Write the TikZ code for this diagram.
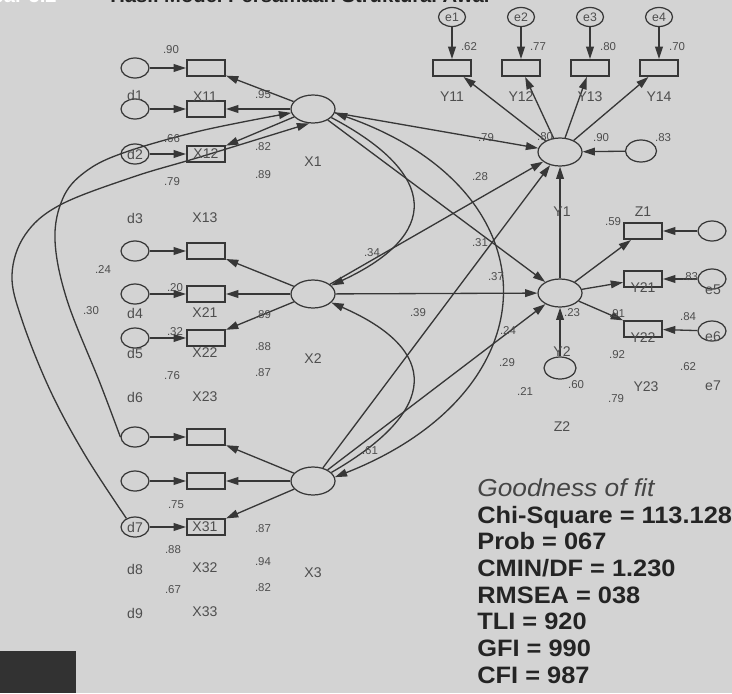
\documentclass[tikz,border=0pt]{standalone}
\usepackage{fontspec}
\setmainfont{Liberation Sans}
\usetikzlibrary{shapes.geometric, arrows.meta, positioning}
\definecolor{bgc}{RGB}{211,211,211}
\definecolor{linec}{RGB}{55,55,55}
\definecolor{txtc}{RGB}{78,78,78}
\definecolor{fitc}{RGB}{36,36,36}
\definecolor{darkc}{RGB}{50,50,50}

\begin{document}
\begin{tikzpicture}[x=0.02cm, y=-0.02cm,
    lat/.style={ellipse, draw=linec, line width=0.7pt, minimum width=0.88cm, minimum height=0.56cm, inner sep=0pt},
    err/.style={ellipse, draw=linec, line width=0.7pt, minimum width=0.56cm, minimum height=0.4cm, inner sep=0pt, text=txtc, font=\fontsize{7}{8}\selectfont},
    ind/.style={rectangle, draw=linec, line width=1.1pt, minimum width=0.76cm, minimum height=0.32cm, inner sep=0pt},
    reg/.style={draw=linec, line width=0.75pt, -{Triangle[length=7pt,width=4.4pt]}},
    bicov/.style={draw=linec, line width=0.75pt, {Triangle[length=7pt,width=4.4pt]}-{Triangle[length=7pt,width=4.4pt]}},
    num/.style={text=txtc, font=\fontsize{6.5}{7}\selectfont, inner sep=0pt},
    nm/.style={text=txtc, font=\fontsize{8}{9}\selectfont, inner sep=0pt},
    fitline/.style={text=fitc, font=\fontsize{13.5}{14}\selectfont\bfseries, anchor=base west, inner sep=0pt}]

    \useasboundingbox (0,0) rectangle (732,693);
    \fill[bgc] (0,0) rectangle (732,693);
    \fill[darkc] (0,651) rectangle (76,693);

    % title, cut by the top edge
    \node[anchor=base east, inner sep=0pt, text=white, font=\fontsize{11.5}{12}\selectfont\bfseries] (fignum) at (57,3) {Gambar 5.2};
    \node[anchor=base west, inner sep=0pt, text=fitc, font=\fontsize{11.5}{12}\selectfont\bfseries] (title) at (110,3) {Hasil Model Persamaan Struktural Awal};

    % exogenous indicators
    \foreach \r/\y in {11/68,12/109,13/154,21/251,22/294,23/338,31/437,32/481,33/527} {
        \node[err] (d\r) at (135,\y) {};
        \node[ind] (x\r) at (206,\y) {};
        \draw[reg] (d\r) -- (x\r);
    }

    \node[lat] (X1) at (313,109) {};
    \node[lat] (X2) at (313,294) {};
    \node[lat] (X3) at (313,481) {};
    \node[lat] (Y1) at (560,152) {};
    \node[lat] (Y2) at (560,293) {};

    \foreach \k in {1,2,3} {
        \foreach \j in {1,2,3} {\draw[reg] (X\k) -- (x\k\j);}
        \draw[reg] (X\k) -- (Y1);
        \draw[reg] (X\k) -- (Y2);
    }

    % Y1 block
    \foreach \j/\x in {1/452,2/521,3/590,4/659} {
        \node[err, minimum width=0.54cm, minimum height=0.38cm] (e\j) at (\x,17) {e\j};
        \node[ind] (y1\j) at (\x,68) {};
        \draw[reg] (e\j) -- (y1\j);
        \draw[reg] (Y1) -- (y1\j);
    }
    \node[err, minimum width=0.62cm, minimum height=0.44cm] (u1) at (641,151) {};
    \draw[reg] (u1) -- (Y1);
    \draw[reg] (Y2) -- (Y1);

    % Y2 block
    \node[ind] (z1) at (643,231) {};
    \node[ind] (y21) at (643,279) {};
    \node[ind] (y22) at (643,329) {};
    \node[err] (v1) at (712,231) {};
    \node[err] (v2) at (712,279) {};
    \node[err] (v3) at (712,331) {};
    \draw[reg] (Y2) -- (z1);
    \draw[reg] (Y2) -- (y21);
    \draw[reg] (Y2) -- (y22);
    \draw[reg] (v1) -- (z1);
    \draw[reg] (v2) -- (y21);
    \draw[reg] (v3) -- (y22);
    \node[err, minimum width=0.64cm, minimum height=0.44cm] (u2) at (560,368) {};
    \draw[reg] (u2) -- (Y2);

    % curved paths
    \draw[reg] (X1.-25) .. controls (440,175) and (440,235) .. (X2.25);
    \draw[reg] (X3.25) .. controls (440,410) and (440,350) .. (X2.-25);
    \draw[bicov] (X1.-10) .. controls (556,190) and (556,390) .. (X3.10);
    \draw[reg] plot[smooth, tension=0.6] coordinates {(d31.west) (100,383) (67,300) (55,240) (63,198) (85,172) (123,153) (200,131) (X1.190)};
    \draw[reg] plot[smooth, tension=0.6] coordinates {(d33.135) (85,455) (50,390) (22,320) (12,275) (25,235) (60,205) (133,177) (200,157) (X1.255)};

    % estimates
    \foreach \t/\x/\y [count=\i] in {.62/469/47, .77/538/47, .80/608/47, .70/677/47,
        .79/486/138, .80/545/137, .90/601/138, .83/663/138, .28/480/177,
        .90/171/50, .95/263/95, .66/172/139, .82/263/147, .79/172/182, .89/263/175,
        .24/103/270, .30/91/311, .20/175/288, .89/263/315, .32/175/332, .88/263/347, .76/172/376, .87/263/373,
        .34/372/253, .61/370/451,
        .75/176/505, .87/263/529, .88/173/550, .94/263/562, .67/173/590, .82/263/588,
        .59/613/222, .83/690/277, .91/617/314, .84/688/317, .23/572/313, .39/418/313, .37/496/277,
        .31/480/243, .24/508/331, .29/507/363, .92/617/355, .60/576/385, .62/688/367, .21/525/392, .79/616/399}
        \node[num] (est\i) at (\x,\y) {\t};

    % variable names
    \foreach \t/\x/\y [count=\i] in {Y11/452/97, Y12/521/97, Y13/590/97, Y14/659/97,
        d1/135/95, X11/205/97, d2/135/154, X12/206/154, X1/313/162, d3/135/218, X13/205/218,
        d4/135/313, X21/205/313, d5/135/353, X22/205/353, X2/313/359, d6/135/397, X23/205/397,
        d7/135/527, X31/205/527, d8/135/569, X32/205/568, X3/313/573, d9/135/613, X33/205/612,
        Y1/562/212, Z1/643/212, Y21/643/288, e5/713/290, Y22/643/338, e6/713/337,
        Y2/562/352, Y23/646/387, e7/713/386, Z2/562/427}
        \node[nm] (var\i) at (\x,\y) {\t};

    % fit indices
    \node[fitline, font=\fontsize{14}{15}\selectfont\itshape, text=fitc!85] (gof) at (477,496) {\scalebox{1.07}[1]{Goodness of fit}};
    \foreach \t/\y [count=\i] in {{Chi-Square = 113.128}/523, {Prob = 067}/549, {CMIN/DF = 1.230}/576,
        {RMSEA = 038}/603, {TLI = 920}/629, {GFI = 990}/656, {CFI = 987}/683}
        \node[fitline] (fit\i) at (477,\y) {\scalebox{1.07}[1]{\t}};
\end{tikzpicture}
\end{document}
